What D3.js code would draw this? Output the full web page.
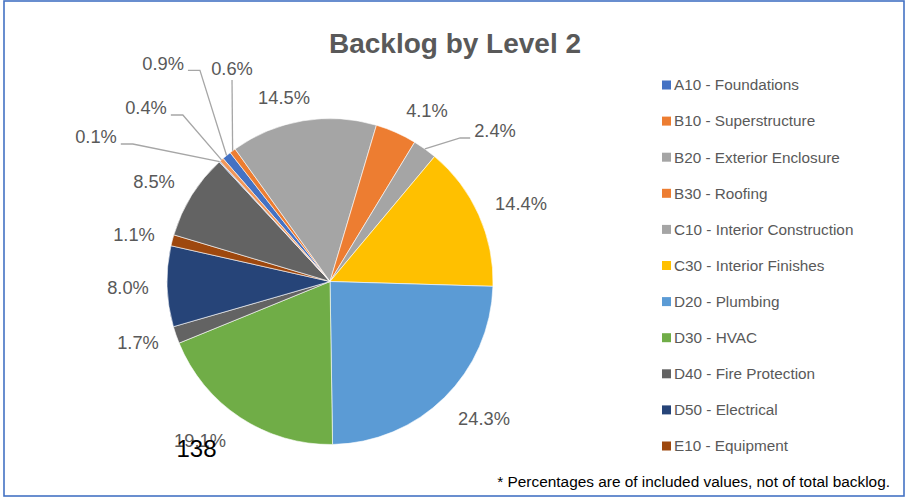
<!DOCTYPE html>
<html>
<head>
<meta charset="utf-8">
<script src="https://cdn.jsdelivr.net/npm/d3@7/dist/d3.min.js"></script>
<style>
  html, body { margin: 0; padding: 0; background: #fff; }
  svg { display: block; }
  text { font-family: "Liberation Sans", Arial, sans-serif; }
</style>
</head>
<body>
<div id="chart"></div>
<script>
// ---------- data ----------
const title = "Backlog by Level 2";
const categories = [
  "A10 - Foundations", "B10 - Superstructure", "B20 - Exterior Enclosure", "B30 - Roofing",
  "C10 - Interior Construction", "C30 - Interior Finishes", "D20 - Plumbing", "D30 - HVAC",
  "D40 - Fire Protection", "D50 - Electrical", "E10 - Equipment",
  "E20 - Furnishings", "F10 - Special Construction", "G20 - Site Improvements"
];
const shares = [0.9, 0.6, 14.5, 4.1, 2.4, 14.4, 24.3, 19.1, 1.7, 8.0, 1.1, 8.5, 0.1, 0.4];
const colors = [
  "#4472C4", "#ED7D31", "#A5A5A5", "#ED7D31", "#A5A5A5", "#FFC000", "#5B9BD5",
  "#70AD47", "#636363", "#264478", "#9E480E", "#636363", "#698ED0", "#F1975A"
];
const legendShown = 11;
const footnote = "* Percentages are of included values, not of total backlog.";
const strayText = "138";

// ---------- layout (not data) ----------
const W = 906, H = 501;
const cx = 330, cy = 281.5, R = 163;
const startDeg = -41;
const labelR = 200;
const labelNudge = [[-40,-63.5],[21.5,-53],[-12.9,13.7],[15.9,12.3],[48.6,12.1],[8.6,4.4],
  [13.6,-4.9],[-19.8,-7.4],[-3.1,-4.1],[-2.1,0.5],[-2.5,4.1],[-6.2,6.2],[-98.6,2.7],[-50.9,-24.2]];
const leaderType = ["left","vertical",null,null,"right",null,null,null,null,null,null,null,"left","left"];

const svg = d3.select("#chart").append("svg").attr("width", W).attr("height", H);
svg.append("rect").attr("x", 0).attr("y", 0).attr("width", W).attr("height", H).attr("fill", "#fff");
svg.append("rect").attr("x", 4).attr("y", 1).attr("width", 900).attr("height", 495)
  .attr("fill", "none").attr("stroke", "#4472C4").attr("stroke-width", 1.6);

svg.append("text").attr("x", 455).attr("y", 53).attr("text-anchor", "middle")
  .attr("font-size", 28).attr("font-weight", "bold").attr("fill", "#595959").text(title);

const total = d3.sum(shares);
const data = categories.map((c, i) => ({ cat: c, v: shares[i], color: colors[i], i }));
const a0 = startDeg * Math.PI / 180;
const pie = d3.pie().value(d => d.v).sort(null).startAngle(a0).endAngle(a0 + 2 * Math.PI);
const arcs = pie(data);
const arc = d3.arc().innerRadius(0).outerRadius(R);

const g = svg.append("g").attr("transform", `translate(${cx},${cy})`);
g.selectAll("path.slice").data(arcs).join("path").attr("class", "slice")
  .attr("d", arc).attr("fill", d => d.data.color)
  .attr("stroke", "#fff").attr("stroke-width", 0.6).attr("stroke-linejoin", "round");

const fmt = d3.format(".1%");
const polar = (ang, r) => [r * Math.sin(ang), -r * Math.cos(ang)];

const labels = g.append("g");
const lines = g.append("g");
arcs.forEach((a, k) => {
  const mid = (a.startAngle + a.endAngle) / 2;
  const [bx, by] = polar(mid, labelR);
  const lx = bx + labelNudge[k][0], ly = by + labelNudge[k][1];
  const t = labels.append("text").attr("x", lx).attr("y", ly).attr("dy", "0.35em")
    .attr("text-anchor", "middle").attr("font-size", 18.3).attr("fill", "#595959")
    .text(fmt(a.data.v / total));
  const type = leaderType[k];
  if (!type) return;
  const w = t.node().getComputedTextLength();
  const [ex, ey] = polar(mid, R);
  let pts;
  if (type === "vertical") {
    pts = [[lx, ly + 12], [ex, ey]];
  } else if (type === "left") {
    const right = lx + w / 2;
    pts = [[right + 4, ly + 7], [right + 16, ly + 7], [ex, ey]];
  } else {
    const left = lx - w / 2;
    pts = [[left - 4, ly + 7], [left - 14, ly + 7], [ex, ey]];
  }
  lines.append("path").attr("d", d3.line()(pts)).attr("fill", "none")
    .attr("stroke", "#A6A6A6").attr("stroke-width", 1.3);
});

// legend
const legend = svg.append("g");
const ly0 = 85, lstep = 36.1;
data.slice(0, legendShown).forEach((d, i) => {
  const y = ly0 + i * lstep;
  legend.append("rect").attr("x", 662).attr("y", y - 4.5).attr("width", 9).attr("height", 9).attr("fill", d.color);
  legend.append("text").attr("x", 674).attr("y", y).attr("dy", "0.35em")
    .attr("font-size", 15.3).attr("fill", "#595959").text(d.cat);
});

svg.append("text").attr("x", 890).attr("y", 487).attr("text-anchor", "end")
  .attr("font-size", 15.4).attr("fill", "#000").text(footnote);

svg.append("text").attr("x", 196.5).attr("y", 457).attr("text-anchor", "middle")
  .attr("font-size", 24).attr("fill", "#000").text(strayText);
</script>
</body>
</html>
